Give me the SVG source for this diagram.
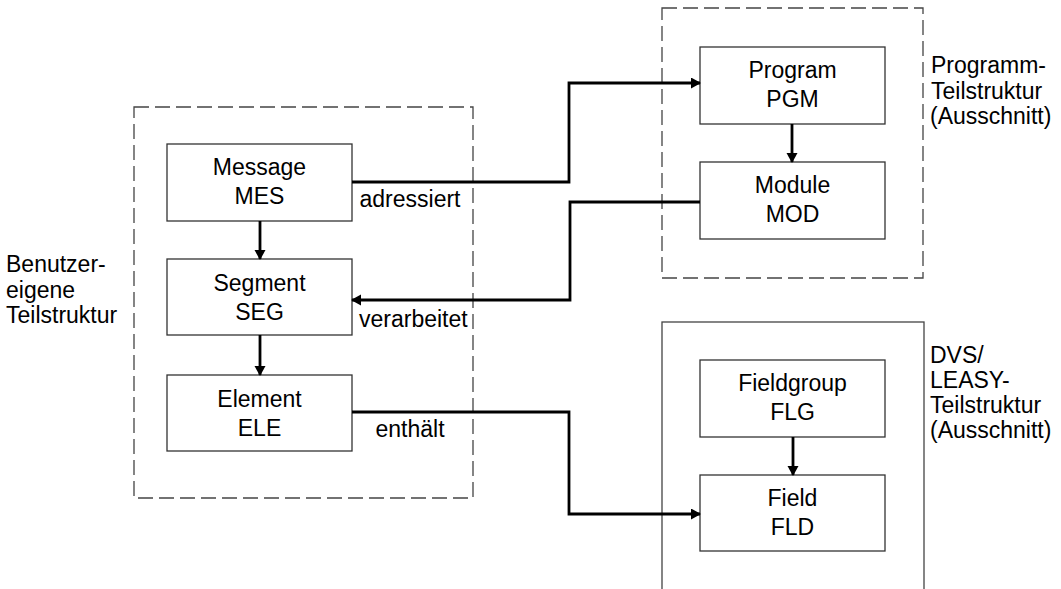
<svg xmlns="http://www.w3.org/2000/svg" width="1061" height="589" viewBox="0 0 1061 589">
<style>
.bg{fill:#ffffff}
.node rect{fill:#ffffff;stroke:#333333;stroke-width:1.3}
.dash{fill:none;stroke:#444444;stroke-width:1.3;stroke-dasharray:15 6}
.frame{fill:none;stroke:#444444;stroke-width:1.3}
text{font-family:"Liberation Sans",Arial,sans-serif;font-size:23px;fill:#000000}
.c{text-anchor:middle}
.conn path{fill:none;stroke:#000000;stroke-width:2.8;marker-end:url(#ah)}
</style>
<defs>
<marker id="ah" markerUnits="userSpaceOnUse" markerWidth="12" markerHeight="12" refX="9" refY="5.5" orient="auto">
<path d="M0,0 L10,5.5 L0,11 Z" fill="#000000"/>
</marker>
</defs>
<rect class="bg" x="0" y="0" width="1061" height="589"/>

<g id="group-benutzer">
<rect class="dash" x="134" y="107" width="339" height="391"/>
<text x="6"><tspan x="6" y="272">Benutzer-</tspan><tspan x="6" y="298">eigene</tspan><tspan x="6" y="323">Teilstruktur</tspan></text>
</g>
<g id="group-programm">
<rect class="dash" x="662" y="8" width="261" height="270"/>
<text><tspan x="931" y="73">Programm-</tspan><tspan x="931" y="99">Teilstruktur</tspan><tspan x="930" y="124">(Ausschnitt)</tspan></text>
</g>
<g id="group-dvs">
<rect class="frame" x="662" y="322" width="262" height="280"/>
<text><tspan x="930" y="363">DVS/</tspan><tspan x="930" y="388">LEASY-</tspan><tspan x="930" y="413">Teilstruktur</tspan><tspan x="930" y="438">(Ausschnitt)</tspan></text>
</g>

<g id="node-mes" class="node">
<rect x="167" y="144" width="185" height="77"/>
<text class="c"><tspan x="259.5" y="175">Message</tspan><tspan x="259.5" y="204">MES</tspan></text>
</g>
<g id="node-seg" class="node">
<rect x="167" y="259" width="185" height="76"/>
<text class="c"><tspan x="259.5" y="291">Segment</tspan><tspan x="259.5" y="320">SEG</tspan></text>
</g>
<g id="node-ele" class="node">
<rect x="167" y="375" width="185" height="76"/>
<text class="c"><tspan x="259.5" y="407">Element</tspan><tspan x="259.5" y="436">ELE</tspan></text>
</g>
<g id="node-pgm" class="node">
<rect x="700" y="47" width="185" height="77"/>
<text class="c"><tspan x="792.5" y="78">Program</tspan><tspan x="792.5" y="107">PGM</tspan></text>
</g>
<g id="node-mod" class="node">
<rect x="700" y="162" width="185" height="77"/>
<text class="c"><tspan x="792.5" y="193">Module</tspan><tspan x="792.5" y="222">MOD</tspan></text>
</g>
<g id="node-flg" class="node">
<rect x="700" y="360" width="185" height="77"/>
<text class="c"><tspan x="792.5" y="391">Fieldgroup</tspan><tspan x="792.5" y="420">FLG</tspan></text>
</g>
<g id="node-fld" class="node">
<rect x="700" y="475" width="185" height="76"/>
<text class="c"><tspan x="792.5" y="506">Field</tspan><tspan x="792.5" y="535">FLD</tspan></text>
</g>

<g id="connectors" class="conn">
<path d="M352,182 H569 V83 H700"/>
<path d="M700,202 H570 V300 H352"/>
<path d="M352,412 H569 V514 H700"/>
<path d="M260,221 V259"/>
<path d="M260,335 V375"/>
<path d="M792,124 V162"/>
<path d="M793,437 V475"/>
</g>
<g id="connector-labels">
<text class="c" x="410" y="207">adressiert</text>
<text x="359" y="327">verarbeitet</text>
<text class="c" x="410" y="437">enthält</text>
</g>
</svg>
